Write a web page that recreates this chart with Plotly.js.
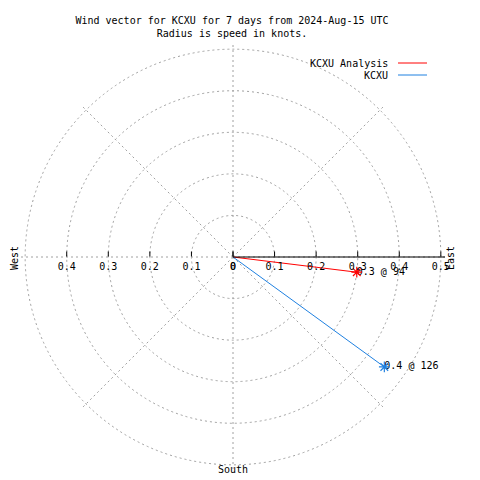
<!DOCTYPE html>
<html>
<head>
<meta charset="utf-8">
<script src="https://cdn.plot.ly/plotly-3.0.1.min.js"></script>
<style>html,body{margin:0;padding:0;background:#fff;}#chart{width:480px;height:480px;}</style>
</head>
<body>
<div id="chart"></div>
<script>
// Series names and colours
const seriesNames = ["KCXU Analysis", "KCXU"];
const seriesColors = ["#ff0000", "#1f80e0"];
// Wind speed (knots) and direction (degrees, compass) for each series
const speeds = [0.30, 0.45];
const directions = [97, 126];
const pointLabels = ["0.3 @ 94", "0.4 @ 126"];
// Radial tick values (east side and west side)
const radialTicksEast = [0, 0.1, 0.2, 0.3, 0.4, 0.5];
const radialTicksWest = [0, 0.1, 0.2, 0.3, 0.4];
const compassLabels = ["West", "East", "South"];

const FONT = "DejaVu Sans Mono, Liberation Mono, monospace";
const gridColor = "#a0a0a0";

// plot area: 424 x 424 px, centre at (233, 257)
const PL = 21, PT = 45, PS = 424;
const px = x => (x - PL) / PS;
const py = y => (PT + PS - y) / PS;

const traces = [];
speeds.forEach((s, i) => {
  traces.push({
    type: "scatterpolar", subplot: "polar",
    r: [0, s], theta: [directions[i], directions[i]],
    mode: "lines+text",
    line: {color: seriesColors[i], width: 1},
    marker: {size: 1},
    text: ["", pointLabels[i]],
    textposition: "middle right",
    textfont: {family: FONT, size: 10, color: "#000"},
    name: seriesNames[i], showlegend: false, cliponaxis: false
  });
  traces.push({
    type: "scatterpolar", subplot: "polar",
    r: [s], theta: [directions[i]],
    mode: "markers",
    marker: {symbol: "asterisk-open", size: 9, color: seriesColors[i], line: {color: seriesColors[i], width: 1.2}},
    name: seriesNames[i], showlegend: false, cliponaxis: false
  });
});
// invisible trace to render the west-side radial axis
traces.push({type: "scatterpolar", subplot: "polar2", r: [0], theta: [0], mode: "markers",
  marker: {size: 0, opacity: 0}, showlegend: false, hoverinfo: "skip"});

const radialCommon = {
  range: [0, 0.51],
  tickfont: {family: FONT, size: 10, color: "#000"},
  ticks: "inside",
  ticklen: 5,
  tickcolor: "#000"
};

const layout = {
  width: 480, height: 480,
  paper_bgcolor: "#fff",
  margin: {l: PL, r: 480 - PL - PS, t: PT, b: 480 - PT - PS},
  font: {family: FONT, size: 10, color: "#000"},
  title: {
    text: "Wind vector for KCXU for 7 days from 2024-Aug-15 UTC<br>Radius is speed in knots.",
    font: {family: FONT, size: 10, color: "#000"},
    x: 232/480, xanchor: "center", xref: "container",
    y: 1 - 24/480, yanchor: "top", yref: "container"
  },
  showlegend: false,
  polar: {
    domain: {x: [0, 1], y: [0, 1]},
    bgcolor: "rgba(0,0,0,0)",
    angularaxis: {
      rotation: 90, direction: "clockwise",
      dtick: 45, showticklabels: false, ticks: "",
      showline: false,
      showgrid: true, gridcolor: gridColor, griddash: "2px,3px", gridwidth: 1
    },
    radialaxis: Object.assign({}, radialCommon, {
      angle: 0, side: "clockwise",
      tickvals: radialTicksEast,
      ticktext: radialTicksEast.map(v => String(v)),
      showline: true, linecolor: "#000", linewidth: 1,
      showgrid: true, gridcolor: gridColor, griddash: "2px,3px", gridwidth: 1
    })
  },
  polar2: {
    domain: {x: [0, 1], y: [0, 1]},
    bgcolor: "rgba(0,0,0,0)",
    angularaxis: {rotation: 90, direction: "clockwise", showticklabels: false, ticks: "", showline: false, showgrid: false},
    radialaxis: Object.assign({}, radialCommon, {
      angle: 180, side: "counterclockwise", tickangle: 180,
      tickvals: radialTicksWest,
      ticktext: radialTicksWest.map(v => String(v)),
      showline: false, showgrid: false
    })
  },
  annotations: [
    {text: compassLabels[0], xref: "paper", yref: "paper", x: px(14), y: py(258), xanchor: "center", yanchor: "middle", textangle: -90, showarrow: false, font: {family: FONT, size: 10}},
    {text: compassLabels[1], xref: "paper", yref: "paper", x: px(450), y: py(258), xanchor: "center", yanchor: "middle", textangle: -90, showarrow: false, font: {family: FONT, size: 10}},
    {text: compassLabels[2], xref: "paper", yref: "paper", x: px(233), y: py(470), xanchor: "center", yanchor: "middle", showarrow: false, font: {family: FONT, size: 10}},
    {text: seriesNames[0], xref: "paper", yref: "paper", x: px(390), y: py(63), xanchor: "right", yanchor: "middle", showarrow: false, font: {family: FONT, size: 10}},
    {text: seriesNames[1], xref: "paper", yref: "paper", x: px(390), y: py(75), xanchor: "right", yanchor: "middle", showarrow: false, font: {family: FONT, size: 10}}
  ],
  shapes: [
    {type: "line", xref: "paper", yref: "paper", x0: px(398), x1: px(427), y0: py(63), y1: py(63), line: {color: seriesColors[0], width: 1}},
    {type: "line", xref: "paper", yref: "paper", x0: px(398), x1: px(427), y0: py(75), y1: py(75), line: {color: seriesColors[1], width: 1}}
  ]
};

Plotly.newPlot("chart", traces, layout, {displayModeBar: false, staticPlot: true});
</script>
</body>
</html>
